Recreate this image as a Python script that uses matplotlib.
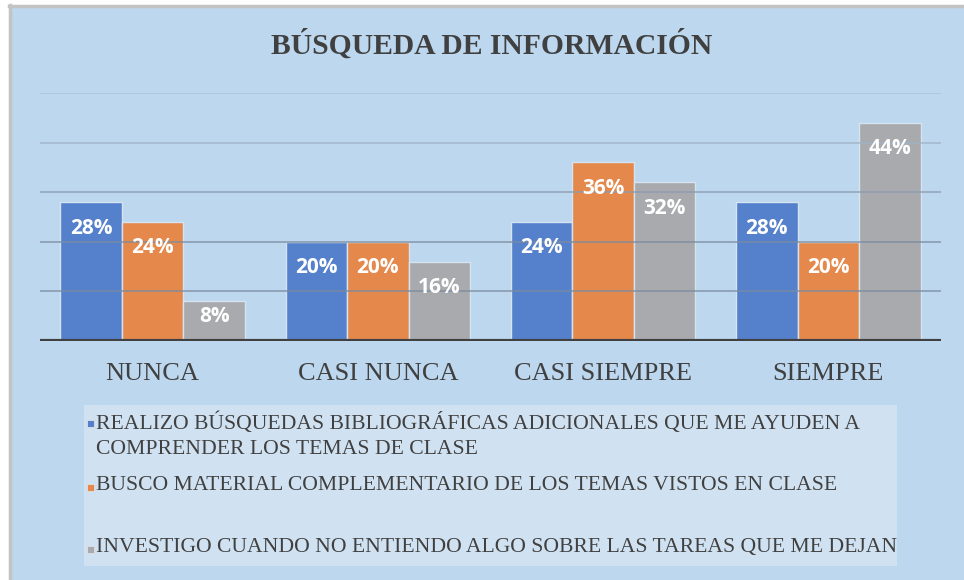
import matplotlib
matplotlib.use("Agg")
import matplotlib.pyplot as plt
from matplotlib.patches import Rectangle
import numpy as np

# ---- data ----
categories = ["NUNCA", "CASI NUNCA", "CASI SIEMPRE", "SIEMPRE"]
series_names = [
    "REALIZO BÚSQUEDAS BIBLIOGRÁFICAS ADICIONALES QUE ME AYUDEN A\nCOMPRENDER LOS TEMAS DE CLASE",
    "BUSCO MATERIAL COMPLEMENTARIO DE LOS TEMAS VISTOS EN CLASE",
    "INVESTIGO CUANDO NO ENTIENDO ALGO SOBRE LAS TAREAS QUE ME DEJAN",
]
realizo = [28, 20, 24, 28]
busco = [24, 20, 36, 20]
investigo = [8, 16, 32, 44]
title = "BÚSQUEDA DE INFORMACIÓN"

series = [realizo, busco, investigo]
colors = ["#5580CB", "#E4894B", "#A8AAAD"]
bg = "#BDD7EE"
txt = "#404040"
serif = ["Liberation Serif", "DejaVu Serif"]
sans = ["Open Sans", "DejaVu Sans"]

W, H = 964, 580
fig = plt.figure(figsize=(W / 100, H / 100), dpi=100)
fig.patch.set_facecolor("white")
# chart area background with gray border on left/top
fig.patches.append(Rectangle((10 / W, 0), 1 - 10 / W, 1 - 6 / H, transform=fig.transFigure,
                             facecolor=bg, edgecolor="none", zorder=-2))
fig.lines.append(plt.Line2D([10 / W, 10 / W], [0, 1 - 5 / H], transform=fig.transFigure,
                            color="#C3C3C3", lw=2.5, zorder=-1))
fig.lines.append(plt.Line2D([9 / W, 1], [1 - 6 / H, 1 - 6 / H], transform=fig.transFigure,
                            color="#C3C3C3", lw=2.5, zorder=-1))

ax_l, ax_r = 40 / W, 941 / W
ax_b, ax_t = 1 - 341 / H, 1 - 93 / H
ax = fig.add_axes([ax_l, ax_b, ax_r - ax_l, ax_t - ax_b])
ax.set_zorder(3)
ax.set_facecolor("none")
ax.set_xlim(-0.5, len(categories) - 0.5)
ax.set_ylim(0, 50)
for s in ax.spines.values():
    s.set_visible(False)
ax.set_yticks([])
ax.set_xticks([])

x = np.arange(len(categories))
bw = 0.273
px_per_unit = (341 - 93) / 50.0
for i, (vals, c) in enumerate(zip(series, colors)):
    pos = x + (i - 1) * bw
    bars = ax.bar(pos, vals, width=bw, color=c, edgecolor="#D6E4F2", linewidth=1.0, zorder=2)
    for b, v in zip(bars, vals):
        hpx = v * px_per_unit
        off = min(26, hpx * 0.37)
        ax.annotate(f"{v}%", (b.get_x() + b.get_width() / 2, v), xytext=(0, -off),
                    textcoords="offset pixels", ha="center", va="center",
                    color="white", fontsize=15, fontweight="bold", family=sans, zorder=4,
                    annotation_clip=False)

# gridlines (drawn over bars, translucent)
grid_vals = [10, 20, 30, 40, 50]
grid_cols = ["#7A8BA0", "#7A8BA0", "#8A9BB0", "#A0B2C6", "#AEC0D3"]
for gv, gc in zip(grid_vals, grid_cols):
    ax.axhline(gv, color=gc, lw=1.2, alpha=0.8, zorder=3)
ax.axhline(0, color=txt, lw=3, zorder=5)

for xi, cat in zip(x, categories):
    ax.annotate(cat, (xi, 0), xytext=(0, -33), textcoords="offset pixels",
                ha="center", va="center", fontsize=19, color=txt, family=serif,
                annotation_clip=False)

fig.text(492 / W, 1 - 45 / H, title, ha="center", va="center",
         fontsize=21.3, fontweight="bold", color=txt, family=serif)

# legend box
lx0, lx1, ly0, ly1 = 84, 897, 405, 566
fig.patches.append(Rectangle((lx0 / W, 1 - ly1 / H), (lx1 - lx0) / W, (ly1 - ly0) / H,
                             transform=fig.transFigure, facecolor="#D0E2F2",
                             edgecolor="none", zorder=1))
entry_y = [423, 487, 549]
for name, c, ey in zip(series_names, colors, entry_y):
    ms = 7
    fig.patches.append(Rectangle((87 / W, 1 - (ey + ms / 2) / H), ms / W, ms / H,
                                 transform=fig.transFigure, facecolor=c,
                                 edgecolor="#E0E0E0", lw=0.6, zorder=2))
    fig.text(96 / W, 1 - (ey - 11) / H, name, ha="left", va="top", fontsize=15.6,
             color=txt, family=serif, linespacing=1.45)

fig.savefig("out.png", dpi=100)
